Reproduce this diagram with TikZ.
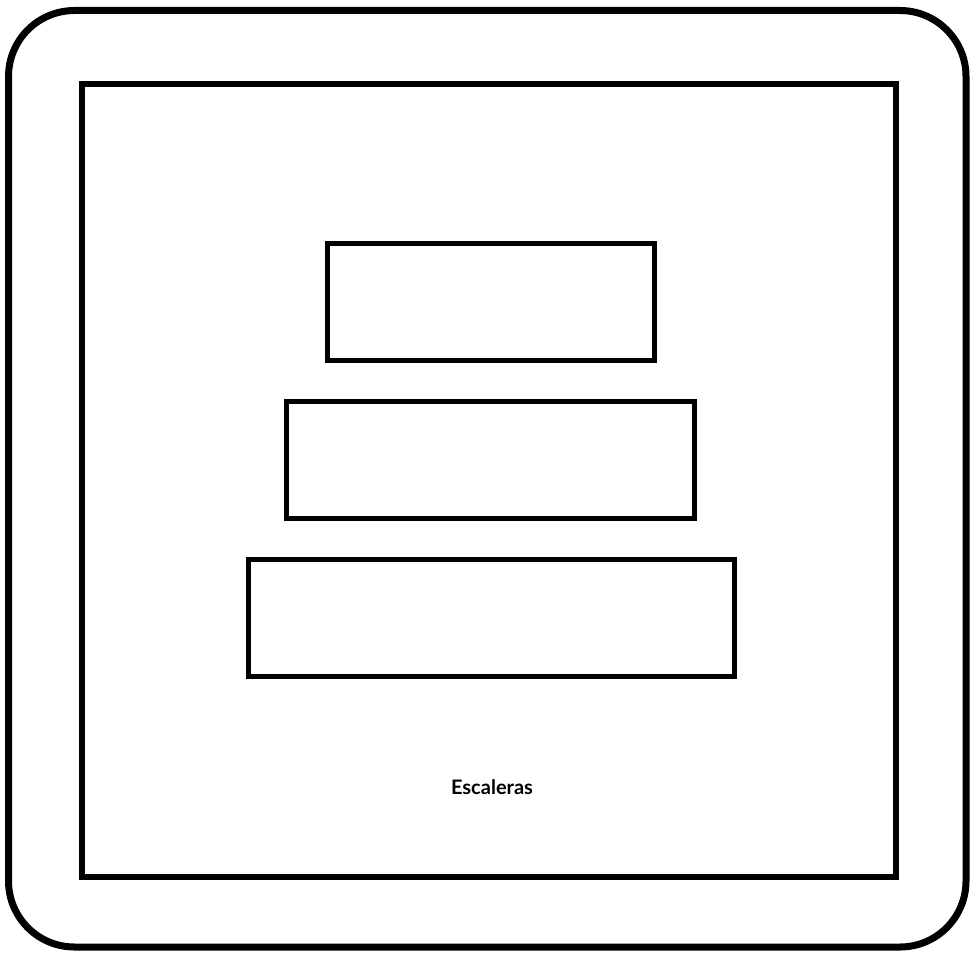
\documentclass[tikz,border=0pt]{standalone}
\usepackage{fontspec}
\setmainfont{Lato}
\begin{document}
\begin{tikzpicture}[x=1pt,y=-1pt,
  frame/.style={draw=black,line width=7pt,rounded corners=66pt},
  inner/.style={draw=black,line width=6pt},
  stepbox/.style={draw=black,line width=5pt,fill=white,inner sep=0pt,outer sep=0pt,minimum height=116.5pt},
  lbl/.style={font=\bfseries\fontsize{20}{24}\selectfont}]
\useasboundingbox[fill=white] (0,0) rectangle (971,955);
\draw[frame] (8.5,10.5) rectangle (966,947);
\draw[inner] (82,84) rectangle (896,876.5);
\node[stepbox,minimum width=327pt] (s1) at (490.5,301.75) {};
\node[stepbox,minimum width=407.5pt] (s2) at (490.25,459.75) {};
\node[stepbox,minimum width=486pt] (s3) at (491,618) {};
\node[lbl] (t) at (492,787) {Escaleras};
\end{tikzpicture}
\end{document}
